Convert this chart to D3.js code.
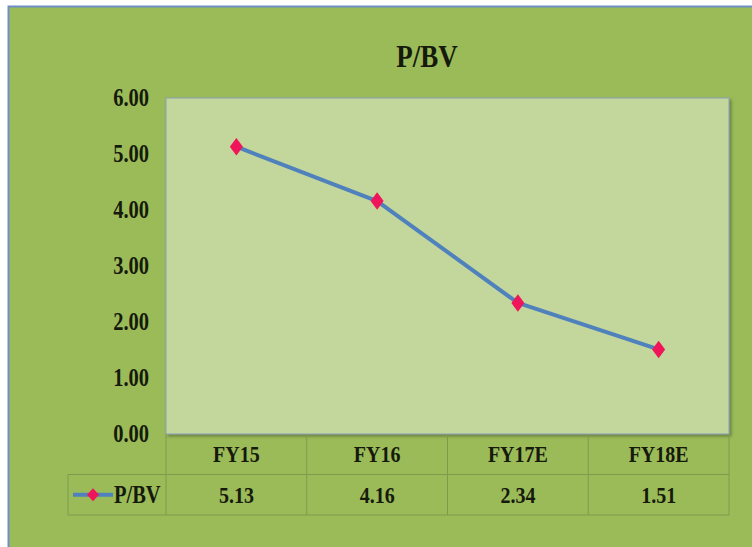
<!DOCTYPE html>
<html><head><meta charset="utf-8">
<script src="https://cdn.jsdelivr.net/npm/d3@7"></script>
<style>html,body{margin:0;padding:0;background:#fff;}svg{display:block;} svg text{font-family:"Liberation Serif","Times New Roman",serif;font-weight:bold;fill:#161a0c;}</style>
</head><body>
<script>
const categories = ["FY15","FY16","FY17E","FY18E"];
const values = [5.13,4.16,2.34,1.51];
const seriesName = "P/BV";
const yTicks = [0,1,2,3,4,5,6];
const title = "P/BV";

const W = 752, H = 547;
const SY = 1.2; // vertical stretch of text seen in the reference
const svg = d3.select("body").append("svg").attr("width",W).attr("height",H);

function label(g, x0, y0, txt, size, anchor){
  return g.append("text").attr("transform",`translate(${x0},${y0}) scale(1,${SY})`)
    .attr("text-anchor",anchor||"middle").style("font-size",size+"px").text(txt);
}

// outer frame
svg.append("rect").attr("x",8.5).attr("y",6.5).attr("width",W).attr("height",H)
  .attr("fill","#9BBB59").attr("stroke","#6f8fc4").attr("stroke-width",2);

const plot = {l:166,r:729,t:98,b:434};
const x = d3.scaleBand().domain(categories).range([plot.l,plot.r]);
const y = d3.scaleLinear().domain([0,6]).range([plot.b,plot.t]);

const defs = svg.append("defs");
const f = defs.append("filter").attr("id","sh").attr("x","-5%").attr("y","-5%").attr("width","115%").attr("height","115%");
f.append("feDropShadow").attr("dx",2).attr("dy",2).attr("stdDeviation",1.5).attr("flood-color","#4a5e28").attr("flood-opacity",0.6);

svg.append("rect").attr("x",plot.l).attr("y",plot.t).attr("width",plot.r-plot.l).attr("height",plot.b-plot.t)
  .attr("fill","#C3D69B").attr("stroke","#8aa0b8").attr("stroke-width",1).attr("filter","url(#sh)");

// title
label(svg, 427, 67, title, 27);

// y axis
const yAxis = d3.axisLeft(y).tickValues(yTicks).tickFormat(d3.format(".2f")).tickSize(0).tickPadding(17);
const ya = svg.append("g").attr("transform",`translate(${plot.l},0)`).call(yAxis);
ya.select(".domain").remove();
ya.attr("font-family",null).attr("font-size",null);
ya.selectAll(".tick text").each(function(){
  const t = d3.select(this);
  t.attr("x",null).attr("dy",null).attr("transform",`translate(-17,7.5) scale(1,${SY})`)
   .style("font-size","20.5px");
});

// data table
const rowH = 40.5;
const tbl = svg.append("g");
const gridC = "#7d9a4c";
const legL = 68;
[[plot.l, plot.b+rowH],[legL, plot.b+rowH],[legL, plot.b+2*rowH]].forEach(([x0,yy])=>{
  tbl.append("line").attr("x1",x0).attr("x2",plot.r).attr("y1",yy).attr("y2",yy).attr("stroke",gridC).attr("stroke-width",1);
});
const vx = [plot.l, ...categories.map(c=>x(c)+x.bandwidth())];
vx.forEach(v=>{
  tbl.append("line").attr("x1",v).attr("x2",v).attr("y1",plot.b).attr("y2",plot.b+2*rowH).attr("stroke",gridC).attr("stroke-width",1);
});
tbl.append("line").attr("x1",legL).attr("x2",legL).attr("y1",plot.b+rowH).attr("y2",plot.b+2*rowH).attr("stroke",gridC);

categories.forEach((c,i)=>{
  label(tbl, x(c)+x.bandwidth()/2, plot.b+rowH/2+8, c, 20);
  label(tbl, x(c)+x.bandwidth()/2, plot.b+rowH*1.5+8, values[i].toFixed(2), 20);
});

// legend key
const ly = plot.b+rowH*1.5;
tbl.append("line").attr("x1",73).attr("x2",113).attr("y1",ly).attr("y2",ly).attr("stroke","#4F81BD").attr("stroke-width",4);
tbl.append("path").attr("d",d3.symbol(d3.symbolSquare,72)()).attr("transform",`translate(93,${ly}) scale(1,1.1) rotate(45)`).attr("fill","#F0145A");
label(tbl, 114, ly+8, seriesName, 20.5, "start");

// line
const line = d3.line().x((d,i)=>x(categories[i])+x.bandwidth()/2).y(d=>y(d));
svg.append("path").datum(values).attr("d",line).attr("fill","none").attr("stroke","#4F81BD").attr("stroke-width",4).attr("stroke-linejoin","round");
svg.selectAll(".mk").data(values).enter().append("path").attr("class","mk")
  .attr("d",d3.symbol(d3.symbolSquare,85)())
  .attr("transform",(d,i)=>`translate(${x(categories[i])+x.bandwidth()/2},${y(d)}) scale(1,1.35) rotate(45)`)
  .attr("fill","#F0145A");
</script>
</body></html>
